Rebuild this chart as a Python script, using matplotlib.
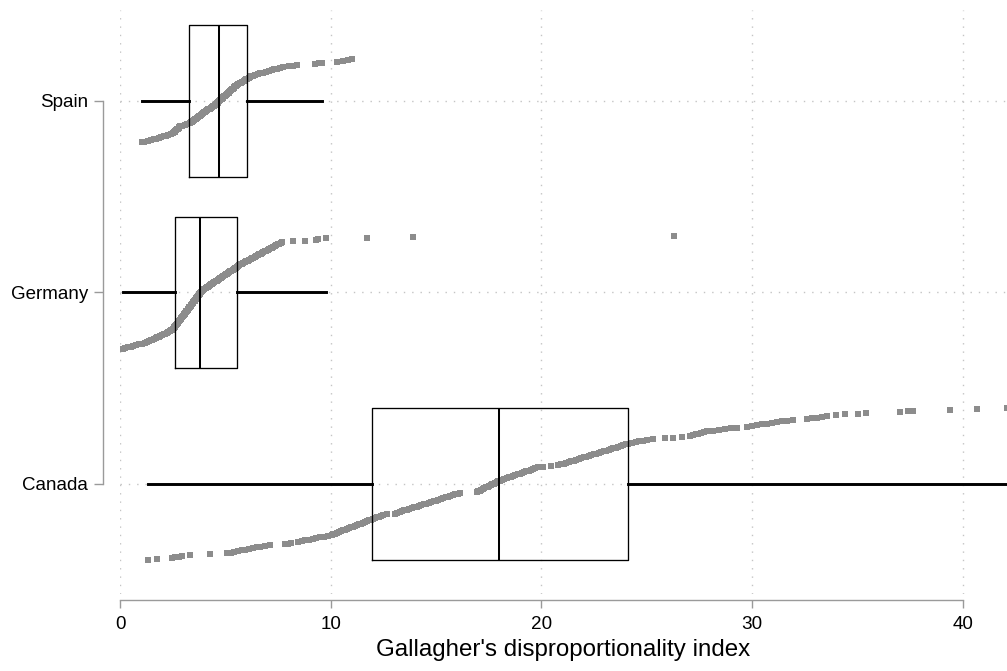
#!/usr/bin/env python3
"""Gallagher index by country: box plots over the ordered election values."""
import numpy as np
import matplotlib.pyplot as plt

INK = "#000000"; DOT = "#8c8c8c"; AXC = "#9a9a9a"; GRID = "#c4c4c4"
plt.rcParams.update({"font.family": ["Liberation Sans", "DejaVu Sans"], "figure.dpi": 100})

COUNTRIES = ["Canada", "Germany", "Spain"]
POS = [1, 2, 3]

# sorted index values per country (plotted in rank order)
CANADA = [1.34, 1.77, 2.48, 2.62, 2.78, 2.95, 3.32, 4.27,
          5.06, 5.25, 5.42, 5.6, 5.78, 5.95, 6.12, 6.3, 6.48, 6.66, 6.9, 7.12,
          7.83, 7.98, 8.12, 8.45, 8.62, 8.8, 8.98, 9.15, 9.32, 9.5, 9.68, 9.88, 10.05,
          10.12, 10.22, 10.31, 10.4, 10.5, 10.59, 10.68, 10.78, 10.87, 10.96, 11.05, 11.15,
          11.24, 11.34, 11.43, 11.53, 11.62, 11.72, 11.81, 11.9, 12.0, 12.1, 12.19, 12.28,
          12.38, 12.5, 12.65,
          13.05, 13.16, 13.28, 13.39, 13.5, 13.62, 13.73, 13.85, 13.96, 14.08, 14.19, 14.3,
          14.42, 14.53, 14.65, 14.76, 14.88, 14.99, 15.1, 15.22, 15.33, 15.45, 15.56, 15.67,
          15.79, 15.9, 16.02, 16.14,
          16.93, 17.0, 17.08, 17.15, 17.22, 17.3, 17.37, 17.45, 17.52, 17.6, 17.67, 17.75,
          17.82, 17.9, 17.96, 18.03, 18.14, 18.24, 18.35, 18.45, 18.56, 18.66, 18.77, 18.87,
          18.98, 19.08, 19.19, 19.29, 19.4, 19.5, 19.61, 19.72, 19.85,
          20.1, 20.45, 20.8,
          20.95, 21.07, 21.19, 21.3, 21.42, 21.54, 21.66, 21.77, 21.89, 22.01, 22.13, 22.25,
          22.36, 22.48, 22.6, 22.72, 22.83, 22.95, 23.07, 23.19, 23.3, 23.42, 23.54, 23.66,
          23.77, 23.89, 24.01, 24.13,
          24.3, 24.5, 24.65, 24.82, 25.0,
          25.3, 25.87, 26.26, 26.66, 27.05, 27.18, 27.32, 27.45, 27.58, 27.72, 27.85,
          28.15, 28.43, 28.71, 28.99, 29.27,
          29.74, 29.98, 30.22, 30.45, 30.69, 30.93,
          31.16, 31.4, 31.64, 31.96,
          32.59, 32.83, 33.06, 33.3, 33.54,
          34.0, 34.4, 35.04, 35.43,
          37.0, 37.41, 37.65, 39.39, 40.66, 42.08]
GERMANY = [0.15, 0.22, 0.36, 0.5, 0.63, 0.77, 0.92, 1.06, 1.2,
           1.3, 1.38, 1.46, 1.54, 1.62, 1.7, 1.77, 1.85, 1.92, 2.0, 2.07, 2.14, 2.21, 2.28,
           2.35, 2.42, 2.49,
           2.52, 2.55, 2.58, 2.6, 2.63, 2.66, 2.69, 2.71, 2.74, 2.77,
           2.8, 2.82, 2.85, 2.88, 2.91, 2.93, 2.96, 2.99, 3.02, 3.04,
           3.07, 3.1, 3.13, 3.15, 3.18, 3.21, 3.24, 3.26, 3.29, 3.32,
           3.35, 3.37, 3.4, 3.43, 3.46, 3.48, 3.51, 3.54, 3.57, 3.59,
           3.62, 3.65, 3.68, 3.7, 3.73, 3.76, 3.79, 3.81, 3.84, 3.87,
           3.9, 3.95, 4.0, 4.06, 4.11, 4.16, 4.22, 4.27, 4.32, 4.38,
           4.43, 4.48, 4.54, 4.59, 4.64, 4.7, 4.75, 4.8, 4.86, 4.91,
           4.96, 5.02, 5.07, 5.12, 5.18, 5.23, 5.28, 5.34, 5.39, 5.44, 5.5, 5.55, 5.6,
           5.65, 5.72, 5.79, 5.86, 5.92, 5.99, 6.06, 6.13, 6.2, 6.26,
           6.33, 6.4, 6.47, 6.54, 6.6, 6.67, 6.74, 6.81, 6.88, 6.94,
           7.01, 7.08, 7.15, 7.22, 7.28, 7.35, 7.42, 7.49, 7.56, 7.63, 7.7,
           8.2, 8.8, 9.3, 9.4, 9.8,
           11.7, 13.9, 26.3]
SPAIN = [1.04, 1.12, 1.35, 1.48, 1.6, 1.72, 1.84, 1.96, 2.08, 2.2, 2.3, 2.4, 2.5,
         2.55, 2.59, 2.63, 2.66, 2.7, 2.74, 2.78, 2.81, 2.85,
         2.95, 3.07, 3.18, 3.3,
         3.35, 3.4, 3.45, 3.5, 3.55, 3.6, 3.65, 3.7, 3.75, 3.8, 3.85, 3.9, 3.95,
         4.0, 4.05, 4.1, 4.15, 4.2, 4.25, 4.3, 4.35, 4.4, 4.45, 4.5, 4.55, 4.6,
         4.63, 4.67, 4.71, 4.75, 4.79, 4.83, 4.87, 4.91, 4.95, 4.99, 5.03, 5.07,
         5.11, 5.15, 5.19, 5.23, 5.27, 5.31, 5.35, 5.39, 5.43, 5.47, 5.51, 5.55,
         5.62, 5.68, 5.75, 5.81, 5.87, 5.93, 5.99, 6.05, 6.11, 6.17, 6.23, 6.3,
         6.4, 6.53, 6.66, 6.8, 6.93, 7.06, 7.2, 7.33, 7.46, 7.6, 7.75,
         8.0, 8.2, 8.4, 9.25, 9.45, 9.6, 10.3, 10.6, 10.8, 11.0]

# box plot summaries: lower whisker, Q1, median, Q3, upper whisker
WHISLO = [1.34, 0.15, 1.04]
Q1 = [11.96, 2.59, 3.27]
MED = [17.99, 3.8, 4.68]
Q3 = [24.1, 5.55, 6.05]
WHISHI = [42.08, 9.8, 9.6]

BOX_W = 0.79
fig = plt.figure(figsize=(10.07, 6.71))
ax = fig.add_axes([120/1007, 77/671, 887/1007, 584/671])

# ordered values spread across the box height, one step per rank
series = [CANADA, GERMANY, SPAIN]
step = BOX_W / (max(len(s) for s in series) - 1)
for p, vals in zip(POS, series):
    v = np.sort(vals); n = len(v)
    y = p + (np.arange(n) - (n - 1) / 2) * step
    ax.scatter(v, y, marker="s", s=13, color=DOT, linewidths=0, zorder=2)

stats = [dict(label=c, whislo=a, q1=b, med=m, q3=d, whishi=e)
         for c, a, b, m, d, e in zip(COUNTRIES, WHISLO, Q1, MED, Q3, WHISHI)]
ax.bxp(stats, positions=POS, widths=BOX_W, orientation="horizontal", showfliers=False,
       showcaps=False, boxprops=dict(color=INK, lw=0.95),
       medianprops=dict(color=INK, lw=1.45), whiskerprops=dict(color=INK, lw=2.1),
       zorder=3)

ax.set_xlim(0, 42.1); ax.set_ylim(0.4256, 3.475)
ax.set_xticks([0, 10, 20, 30, 40]); ax.set_yticks(POS, COUNTRIES)
for s in ["top", "right"]: ax.spines[s].set_visible(False)
ax.spines["left"].set_position(("outward", 12.2)); ax.spines["left"].set_bounds(1, 3)
ax.spines["bottom"].set_position(("outward", 4.3)); ax.spines["bottom"].set_bounds(0, 40)
for s in ["left", "bottom"]:
    ax.spines[s].set_color(AXC); ax.spines[s].set_linewidth(1.0)
ax.tick_params(axis="x", length=5.8, width=1.0, color=AXC, pad=5.4, labelsize=13.6)
ax.tick_params(axis="y", length=6.5, width=1.0, color=AXC, pad=4.3, labelsize=13.5)
ax.grid(True, ls=(0, (1, 5)), lw=1.0, color=GRID, zorder=0)
ax.set_axisbelow(True)
ax.set_xlabel("Gallagher's disproportionality index", fontsize=17.4, labelpad=4.6)

fig.savefig("out.png", dpi=100)
